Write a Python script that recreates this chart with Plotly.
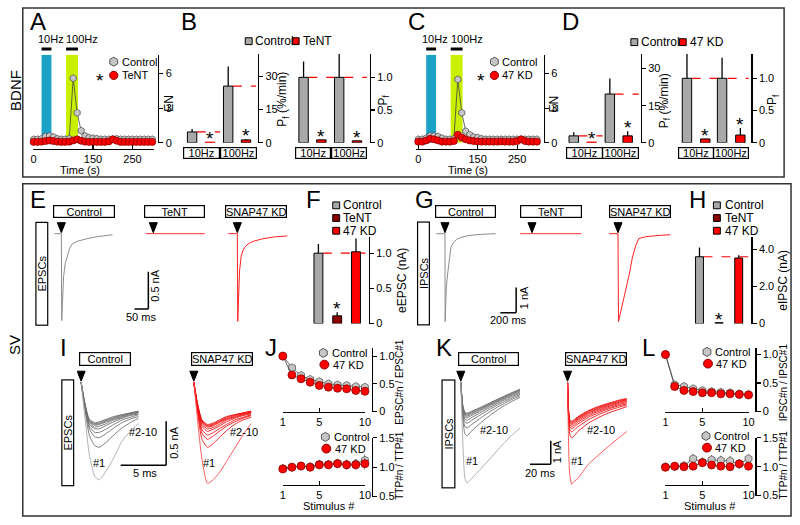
import plotly.graph_objects as go

W, H = 800, 525
FONT = "Liberation Sans, Arial, sans-serif"

GRAY_BAR = "#a8a8a8"
GRAY_PT = "#c6c6c6"
RED = "#ff0000"
RED_EDGE = "#8a0000"
DKRED = "#8b0000"
BLUE = "#1ca2c7"
GREEN = "#c8f000"

# ---------------- data: A / C (EN vs time) ----------------
time_s = [0, 10, 20, 30, 40, 50, 60, 70, 80, 90, 100, 110, 120, 130, 140, 150,
          160, 170, 180, 190, 200, 210, 220, 230, 240, 250, 260, 270, 280, 290, 300]
en_ctrl_A = [0.30, 0.30, 0.35, 0.55, 0.60, 0.50, 0.35, 0.30, 0.30, 0.35, 5.60, 2.60, 1.05, 0.60, 0.45, 0.40,
             0.35, 0.30, 0.30, 0.30, 0.30, 0.35, 0.30, 0.30, 0.30, 0.30, 0.30, 0.30, 0.30, 0.30, 0.30]
en_tent_A = [0.08, 0.08, 0.10, 0.15, 0.20, 0.15, 0.10, 0.08, 0.08, 0.10, 0.20, 0.30, 0.18, 0.10, 0.08, 0.08,
             0.08, 0.08, 0.08, 0.12, 0.30, 0.18, 0.08, 0.08, 0.08, 0.08, 0.08, 0.08, 0.08, 0.08, 0.08]
en_ctrl_C = [0.30, 0.30, 0.40, 0.60, 0.60, 0.55, 0.40, 0.30, 0.30, 0.35, 5.50, 2.60, 1.00, 0.70, 0.50, 0.45,
             0.35, 0.30, 0.30, 0.30, 0.30, 0.30, 0.30, 0.30, 0.30, 0.30, 0.30, 0.30, 0.30, 0.30, 0.30]
en_kd_C = [0.10, 0.10, 0.20, 0.35, 0.30, 0.20, 0.10, 0.10, 0.10, 0.15, 0.70, 0.45, 0.30, 0.20, 0.15, 0.12,
           0.10, 0.10, 0.10, 0.10, 0.10, 0.12, 0.10, 0.10, 0.10, 0.15, 0.30, 0.15, 0.10, 0.10, 0.10]
stim_labels = ["10Hz", "100Hz"]
stim_windows = [[20, 45], [82, 112]]
en_ticks = [0, 3, 6]
time_ticks = [0, 150, 250]

# ---------------- data: B / D (fusion probability) ----------------
freq_cats = ["10Hz", "100Hz"]
pf_ctrl_B = [4.9, 25.6]
pf_ctrl_B_err = [1.3, 8.8]
pf_tent_B = [0.3, 1.3]
pf_tent_B_err = [0.0, 0.4]
pfn_ctrl_B = [1.0, 1.0]
pfn_ctrl_B_err = [0.24, 0.36]
pfn_tent_B = [0.045, 0.03]
pfn_tent_B_err = [0.0, 0.0]
pf_ctrl_D = [2.8, 19.7]
pf_ctrl_D_err = [1.5, 6.3]
pf_kd_D = [0.3, 2.8]
pf_kd_D_err = [0.0, 1.9]
pfn_ctrl_D = [1.0, 1.0]
pfn_ctrl_D_err = [0.45, 0.32]
pfn_kd_D = [0.06, 0.12]
pfn_kd_D_err = [0.0, 0.11]
pf_ticks = [0, 15, 30]
pfn_ticks = [0, 0.5, 1.0]
pfn_ticktext = ["0", "0.5", "1.0"]

# ---------------- data: F / H (evoked amplitudes) ----------------
group_cats = ["Control", "TeNT", "47 KD"]
eepsc = [1.0, 0.11, 1.02]
eepsc_err = [0.13, 0.05, 0.19]
eipsc = [3.6, 0.05, 3.53]
eipsc_err = [0.5, 0.0, 0.15]
eepsc_ticks = [0, 0.5, 1.0]
eepsc_ticktext = ["0", "0.5", "1.0"]
eipsc_ticks = [0, 2, 4]
eipsc_ticktext = ["0", "2.0", "4.0"]

# ---------------- data: E / G single traces ----------------
e_ctrl_t = [-25, 0, 1.5, 4, 8, 14, 21, 30, 40, 60, 90, 130, 185]
e_ctrl_i = [0, 0, -1.17, -0.85, -0.58, -0.40, -0.30, -0.20, -0.135, -0.10, -0.07, -0.04, -0.015]
e_kd_t = [-32, 0, 1.5, 4, 8, 14, 21, 30, 40, 60, 90, 130, 180]
e_kd_i = [0, 0, -1.18, -0.85, -0.50, -0.30, -0.22, -0.17, -0.135, -0.10, -0.07, -0.045, -0.03]
e_tent_t = [-28, 186]
e_tent_i = [0, 0]
g_ctrl_t = [-110, 0, 2, 5, 17, 37, 58, 75, 100, 150, 200, 300, 450, 640]
g_ctrl_i = [0, 0, -3.46, -2.77, -2.10, -1.50, -0.85, -0.54, -0.38, -0.22, -0.15, -0.07, -0.03, 0]
g_kd_t = [-112, 0, 6, 58, 100, 142, 183, 225, 263, 350, 475, 660]
g_kd_i = [0, 0, -3.46, -2.77, -2.10, -1.60, -0.92, -0.46, -0.19, -0.12, -0.08, -0.04]
g_tent_t = [-150, 625]
g_tent_i = [0, 0]

# ---------------- data: I / K train traces (#1..#10) ----------------
i_time_ms = [0, 0.4, 0.9, 1.5, 2.0, 2.8, 3.6, 4.5, 5.4, 6.3]
epsc_ctrl = [
    [0, -0.38, -0.82, -1.07, -1.11, -1.00, -0.86, -0.67, -0.56, -0.47],
    [0, -0.30, -0.60, -0.72, -0.74, -0.68, -0.60, -0.52, -0.46, -0.41],
    [0, -0.28, -0.53, -0.62, -0.63, -0.58, -0.52, -0.46, -0.42, -0.39],
    [0, -0.27, -0.50, -0.57, -0.57, -0.53, -0.48, -0.43, -0.40, -0.37],
    [0, -0.26, -0.48, -0.53, -0.53, -0.49, -0.45, -0.41, -0.38, -0.36],
    [0, -0.25, -0.46, -0.51, -0.50, -0.47, -0.43, -0.40, -0.37, -0.35],
    [0, -0.25, -0.45, -0.49, -0.48, -0.45, -0.42, -0.39, -0.36, -0.34],
    [0, -0.24, -0.44, -0.48, -0.47, -0.44, -0.41, -0.38, -0.36, -0.34],
    [0, -0.24, -0.43, -0.47, -0.46, -0.43, -0.40, -0.37, -0.35, -0.33],
    [0, -0.23, -0.42, -0.46, -0.45, -0.42, -0.39, -0.37, -0.35, -0.33],
]
epsc_kd = [
    [0, -0.42, -0.88, -1.15, -1.12, -1.03, -0.90, -0.75, -0.60, -0.47],
    [0, -0.33, -0.65, -0.74, -0.71, -0.63, -0.55, -0.48, -0.43, -0.40],
    [0, -0.30, -0.58, -0.65, -0.62, -0.56, -0.50, -0.45, -0.41, -0.38],
    [0, -0.29, -0.54, -0.60, -0.58, -0.53, -0.48, -0.43, -0.40, -0.37],
    [0, -0.28, -0.50, -0.56, -0.54, -0.50, -0.45, -0.41, -0.38, -0.36],
    [0, -0.27, -0.48, -0.53, -0.52, -0.48, -0.43, -0.40, -0.37, -0.35],
    [0, -0.26, -0.46, -0.51, -0.50, -0.46, -0.42, -0.39, -0.36, -0.34],
    [0, -0.25, -0.45, -0.50, -0.49, -0.45, -0.41, -0.38, -0.36, -0.34],
    [0, -0.25, -0.44, -0.49, -0.48, -0.44, -0.40, -0.37, -0.35, -0.33],
    [0, -0.24, -0.43, -0.48, -0.47, -0.43, -0.39, -0.37, -0.35, -0.33],
]
k_time_ms = [0, 2, 4, 6, 10, 20, 30, 40, 50, 57]
ipsc_ctrl = [
    [0, -2.60, -4.10, -4.29, -4.13, -3.65, -3.17, -2.67, -2.23, -1.96],
    [0, -1.60, -2.20, -2.29, -2.10, -1.70, -1.35, -1.05, -0.80, -0.65],
    [0, -1.40, -1.90, -1.95, -1.82, -1.50, -1.20, -0.95, -0.72, -0.58],
    [0, -1.30, -1.70, -1.75, -1.64, -1.36, -1.10, -0.87, -0.66, -0.52],
    [0, -1.20, -1.58, -1.62, -1.52, -1.27, -1.03, -0.80, -0.60, -0.47],
    [0, -1.15, -1.48, -1.52, -1.43, -1.20, -0.97, -0.75, -0.55, -0.42],
    [0, -1.10, -1.41, -1.45, -1.37, -1.15, -0.92, -0.71, -0.51, -0.38],
    [0, -1.07, -1.36, -1.40, -1.32, -1.11, -0.89, -0.68, -0.48, -0.35],
    [0, -1.04, -1.32, -1.36, -1.28, -1.08, -0.86, -0.65, -0.45, -0.32],
    [0, -1.00, -1.28, -1.32, -1.25, -1.05, -0.84, -0.63, -0.43, -0.30],
]
ipsc_kd = [
    [0, -3.90, -4.35, -4.25, -4.10, -3.50, -3.10, -2.71, -2.35, -2.10],
    [0, -2.20, -2.38, -2.30, -2.10, -1.75, -1.50, -1.30, -1.15, -1.04],
    [0, -2.00, -2.12, -2.05, -1.90, -1.60, -1.38, -1.20, -1.06, -0.97],
    [0, -1.88, -1.98, -1.92, -1.78, -1.50, -1.30, -1.13, -1.00, -0.92],
    [0, -1.80, -1.90, -1.84, -1.70, -1.43, -1.24, -1.08, -0.95, -0.87],
    [0, -1.74, -1.83, -1.77, -1.63, -1.37, -1.19, -1.03, -0.90, -0.82],
    [0, -1.69, -1.78, -1.72, -1.58, -1.32, -1.14, -0.99, -0.86, -0.78],
    [0, -1.65, -1.74, -1.68, -1.54, -1.28, -1.10, -0.95, -0.82, -0.75],
    [0, -1.61, -1.70, -1.64, -1.50, -1.24, -1.06, -0.92, -0.79, -0.72],
    [0, -1.58, -1.67, -1.61, -1.47, -1.21, -1.03, -0.89, -0.76, -0.70],
]

# ---------------- data: J / L (train ratios) ----------------
stim_n = [1, 2, 3, 4, 5, 6, 7, 8, 9, 10]
epsc_ratio_ctrl = [1.0, 0.79, 0.65, 0.58, 0.54, 0.50, 0.48, 0.47, 0.45, 0.44]
epsc_ratio_kd = [1.0, 0.66, 0.59, 0.53, 0.47, 0.44, 0.42, 0.41, 0.38, 0.365]
ttp_e_ctrl = [0.98, 1.00, 1.02, 1.01, 1.05, 1.05, 1.07, 1.05, 1.06, 1.12]
ttp_e_ctrl_err = [0.02, 0.05, 0.05, 0.06, 0.07, 0.06, 0.07, 0.08, 0.08, 0.10]
ttp_e_kd = [0.97, 1.00, 1.02, 1.00, 1.04, 1.04, 1.06, 1.04, 1.04, 1.06]
ttp_e_kd_err = [0.02, 0.05, 0.05, 0.07, 0.07, 0.06, 0.06, 0.08, 0.08, 0.10]
ipsc_ratio_ctrl = [1.0, 0.47, 0.44, 0.40, 0.37, 0.35, 0.34, 0.33, 0.31, 0.30]
ipsc_ratio_kd = [1.0, 0.44, 0.37, 0.35, 0.33, 0.33, 0.31, 0.31, 0.30, 0.29]
ttp_i_ctrl = [1.00, 1.00, 1.02, 1.14, 1.08, 1.12, 1.11, 1.10, 1.05, 1.14]
ttp_i_ctrl_err = [0.02, 0.05, 0.06, 0.08, 0.08, 0.08, 0.08, 0.08, 0.08, 0.08]
ttp_i_kd = [0.99, 1.01, 1.00, 1.01, 1.07, 1.03, 1.01, 1.00, 1.05, 1.01]
ttp_i_kd_err = [0.02, 0.05, 0.06, 0.06, 0.07, 0.06, 0.06, 0.06, 0.07, 0.06]
ratio_ticks = [0, 0.5, 1.0]
ratio_ticktext = ["0", "0.5", "1.0"]
ttp_ticks = [0.5, 1.0, 1.5]
ttp_ticktext = ["0.5", "1.0", "1.5"]
stim_ticks = [1, 5, 10]


# ================= helpers =================
def px(x):
    return x / W


def py(y):
    return 1 - y / H


fig = go.Figure()
lay = dict(width=W, height=H, margin=dict(l=0, r=0, t=0, b=0), paper_bgcolor="white",
           plot_bgcolor="rgba(0,0,0,0)", showlegend=False, barmode="overlay",
           font=dict(family=FONT, size=11, color="black"))
shapes = []
annotations = []
n_ax = [0]


def axes(xdom, ydom, xr, yr, cats=None):
    n_ax[0] += 1
    s = "" if n_ax[0] == 1 else str(n_ax[0])
    xa = dict(domain=[px(xdom[0]), px(xdom[1])], range=xr, anchor="y" + s, visible=False,
              showgrid=False, zeroline=False, fixedrange=True)
    if cats is not None:
        xa.update(type="category", categoryorder="array", categoryarray=cats)
    ya = dict(domain=[py(ydom[0]), py(ydom[1])], range=yr, anchor="x" + s, visible=False,
              showgrid=False, zeroline=False, fixedrange=True)
    lay["xaxis" + s] = xa
    lay["yaxis" + s] = ya
    return "x" + s, "y" + s


AXSTYLE = dict(visible=True, showline=True, linecolor="black", linewidth=1.2, tickwidth=1.2,
               tickcolor="black", ticklen=4, tickfont=dict(family=FONT, size=11, color="black"))


def yaxis_right(yref, pos_px, tickvals, ticktext=None):
    name = "yaxis" + yref[1:]
    lay[name].update(AXSTYLE)
    lay[name].update(anchor="free", position=px(pos_px), side="right", ticks="outside",
                     tickvals=tickvals, ticktext=ticktext if ticktext else [str(v) for v in tickvals])


def xaxis_free(xref, pos_py, tickvals):
    name = "xaxis" + xref[1:]
    lay[name].update(AXSTYLE)
    lay[name].update(anchor="free", position=py(pos_py), side="bottom", ticks="inside",
                     tickvals=tickvals, ticktext=[str(v) for v in tickvals])


def text(x, y, s, size=11, xanchor="center", yanchor="middle", angle=0, color="black"):
    annotations.append(dict(x=px(x), y=py(y), xref="paper", yref="paper", text=s, showarrow=False,
                            xanchor=xanchor, yanchor=yanchor, textangle=angle,
                            font=dict(family=FONT, size=size, color=color)))


def boxed(x0, x1, y0, y1, s, size=11, angle=0):
    w, h = x1 - x0, y1 - y0
    if angle:
        w, h = h, w
    annotations.append(dict(x=px((x0 + x1) / 2), y=py((y0 + y1) / 2), xref="paper", yref="paper",
                            text=s, showarrow=False, xanchor="center", yanchor="middle",
                            textangle=angle, width=w - 2, height=h - 2, borderwidth=1.2,
                            bordercolor="black", borderpad=0, bgcolor="white",
                            font=dict(family=FONT, size=size, color="black")))


def star_data(xref, yref, x, y, shift=7):
    annotations.append(dict(x=x, y=y, xref=xref, yref=yref, text="*", showarrow=False,
                            xanchor="center", yanchor="middle", yshift=shift - 4.4,
                            font=dict(family=FONT, size=19, color="black")))


def star_paper(x, y):
    text(x, y + 4.4, "*", size=19)


def leg_square(cx, cy, color, s=7):
    shapes.append(dict(type="rect", xref="paper", yref="paper", x0=px(cx - s / 2), x1=px(cx + s / 2),
                       y0=py(cy + s / 2), y1=py(cy - s / 2), fillcolor=color,
                       line=dict(color="black", width=1)))


def leg_circle(cx, cy, r=4.2):
    shapes.append(dict(type="circle", xref="paper", yref="paper", x0=px(cx - r), x1=px(cx + r),
                       y0=py(cy + r), y1=py(cy - r), fillcolor=RED,
                       line=dict(color=RED_EDGE, width=1)))


def leg_hex(cx, cy, r=4.5):
    a = 0.866 * r
    path = (f"M0,{r} L{a:.2f},{r/2:.2f} L{a:.2f},{-r/2:.2f} L0,{-r} "
            f"L{-a:.2f},{-r/2:.2f} L{-a:.2f},{r/2:.2f} Z")
    shapes.append(dict(type="path", xref="paper", yref="paper", xsizemode="pixel", ysizemode="pixel",
                       xanchor=px(cx), yanchor=py(cy), path=path, fillcolor=GRAY_PT,
                       line=dict(color="#555555", width=1)))


def stim_arrow(xref, yref):
    shapes.append(dict(type="path", xref=xref, yref=yref, xsizemode="pixel", ysizemode="pixel",
                       xanchor=0, yanchor=0, path="M-4,11 L4,11 L0,1 Z", fillcolor="black",
                       line=dict(color="black", width=1)))


def bar_geom(unit, center_px, width_px):
    w = width_px / unit
    return center_px / unit - w / 2, w


ERR = dict(type="data", symmetric=False, color="black", thickness=1.3, width=0)


def err(vals):
    e = dict(ERR)
    e.update(array=vals, arrayminus=[0] * len(vals))
    return e


# ================= frames and row labels =================
shapes.append(dict(type="rect", xref="paper", yref="paper", x0=px(20), x1=px(790), y0=py(175), y1=py(2),
                   line=dict(color="#333333", width=1.5)))
shapes.append(dict(type="rect", xref="paper", yref="paper", x0=px(20), x1=px(797), y0=py(522), y1=py(182),
                   line=dict(color="#333333", width=1.5)))
text(12, 86, "BDNF", size=15, angle=-90)
text(11, 347, "SV", size=15, angle=-90)
for lx, ly, L in [(35, 16, "A"), (188, 16, "B"), (418, 16, "C"), (574, 16, "D"),
                  (35, 198, "E"), (314, 198, "F"), (426, 198, "G"), (702, 198, "H"),
                  (61, 349, "I"), (271, 349, "J"), (446, 349, "K"), (653, 349, "L")]:
    text(lx, ly, L, size=24)


# ================= A and C =================
def en_panel(xdom, zero_px, yaxis_px, ctrl, other):
    ppu = 0.4
    xr = [(xdom[0] - zero_px) / ppu, (xdom[1] - zero_px) / ppu]
    ytop = (140 - 50) / 11.8
    xa, ya = axes(xdom, (140, 50), xr, [0, ytop])
    xaxis_free(xa, 146, time_ticks)
    yaxis_right(ya, yaxis_px, en_ticks)
    for (w0, w1), col in zip(stim_windows, [BLUE, GREEN]):
        shapes.append(dict(type="rect", xref=xa, yref=ya, x0=w0, x1=w1, y0=0, y1=ytop,
                           fillcolor=col, line=dict(width=0), layer="below"))
    for (w0, w1), lab, dx in zip(stim_windows, stim_labels, [-6, -2]):
        shapes.append(dict(type="line", xref=xa, yref="paper", x0=w0, x1=w1, y0=py(44), y1=py(44),
                           line=dict(color="black", width=3)))
        annotations.append(dict(x=w0, y=py(42.3), xref=xa, yref="paper", text=lab, xanchor="left",
                                yanchor="bottom", xshift=dx, showarrow=False,
                                font=dict(family=FONT, size=11, color="black")))
    fig.add_trace(go.Scatter(x=time_s, y=ctrl, xaxis=xa, yaxis=ya, mode="lines+markers", cliponaxis=False,
                             line=dict(color="#444444", width=0.8),
                             marker=dict(symbol="hexagon", size=7, color=GRAY_PT,
                                         line=dict(color="#555555", width=0.8))))
    fig.add_trace(go.Scatter(x=time_s, y=other, xaxis=xa, yaxis=ya, mode="lines+markers", cliponaxis=False,
                             line=dict(color="#444444", width=0.8),
                             marker=dict(symbol="circle", size=7, color=RED,
                                         line=dict(color=RED_EDGE, width=0.8))))
    return xa, ya


en_panel((30, 153), 31, 157, en_ctrl_A, en_tent_A)
text(168, 100, "EN", size=12, angle=-90)
text(78, 168, "Time (s)", size=11)
leg_hex(112, 57)
text(118, 57, "Control", xanchor="left")
leg_circle(112, 71)
text(118, 71, "TeNT", xanchor="left")
star_paper(98, 72)

en_panel((418, 543), 420, 547, en_ctrl_C, en_kd_C)
text(557, 100, "EN", size=12, angle=-90)
text(470, 168, "Time (s)", size=11)
leg_hex(497, 57)
text(503, 57, "Control", xanchor="left")
leg_circle(497, 71)
text(503, 71, "47 KD", xanchor="left")
star_paper(483, 72)


# ================= B and D bar panels =================
def freq_bar_panel(xdom, axis_px, ppu_y, ctrl, ctrl_err, oth, oth_err, ctr_off, oth_off,
                   ticks, ticktext, normalized, oth_edge):
    unit = (xdom[1] - xdom[0]) / 2.0
    ytop = (140 - 49) / ppu_y
    xa, ya = axes(xdom, (140, 49), [-0.5, 1.5], [0, ytop], cats=freq_cats)
    yaxis_right(ya, axis_px, ticks, ticktext)
    oc, wc = bar_geom(unit, ctr_off, 9.5)
    oo, wo = bar_geom(unit, oth_off, 9.5)
    axis_u = (axis_px - xdom[0]) / unit - 0.5
    if normalized:
        shapes.append(dict(type="line", xref=xa, yref=ya, x0=oc + wc, x1=axis_u, y0=ctrl[0], y1=ctrl[0],
                           line=dict(color=RED, width=1.2, dash="dash"), layer="below"))
    else:
        for i in range(2):
            x1 = i + 0.5 if i == 0 else axis_u
            shapes.append(dict(type="line", xref=xa, yref=ya, x0=i + oc + wc, x1=x1, y0=ctrl[i], y1=ctrl[i],
                               line=dict(color=RED, width=1.2, dash="dash"), layer="below"))
    fig.add_trace(go.Bar(x=freq_cats, y=ctrl, offset=oc, width=wc, xaxis=xa, yaxis=ya, cliponaxis=False,
                         marker=dict(color=GRAY_BAR, line=dict(color="black", width=1)), error_y=err(ctrl_err)))
    fig.add_trace(go.Bar(x=freq_cats, y=oth, offset=oo, width=wo, xaxis=xa, yaxis=ya, cliponaxis=False,
                         marker=dict(color=RED, line=dict(color=oth_edge, width=1)), error_y=err(oth_err)))
    for i in range(2):
        star_data(xa, ya, i + oo + wo / 2, oth[i] + oth_err[i], shift=8)
    boxed(xdom[0], (xdom[0] + xdom[1]) / 2, 144, 156, freq_cats[0])
    boxed((xdom[0] + xdom[1]) / 2, xdom[1], 144, 156, freq_cats[1])


freq_bar_panel((183, 256), 258, 68 / 30.0, pf_ctrl_B, pf_ctrl_B_err, pf_tent_B, pf_tent_B_err,
               -10, 8, pf_ticks, None, False, [RED, "black"])
freq_bar_panel((296, 368), 371, 67.0, pfn_ctrl_B, pfn_ctrl_B_err, pfn_tent_B, pfn_tent_B_err,
               -10, 8, pfn_ticks, pfn_ticktext, True, ["black", "black"])
freq_bar_panel((570, 643), 645, 76 / 30.0, pf_ctrl_D, pf_ctrl_D_err, pf_kd_D, pf_kd_D_err,
               -11, 7, pf_ticks, None, False, [RED, "black"])
freq_bar_panel((683, 754), 757, 66.0, pfn_ctrl_D, pfn_ctrl_D_err, pfn_kd_D, pfn_kd_D_err,
               -9, 9.5, pfn_ticks, pfn_ticktext, True, ["black", "black"])

text(283, 95, "P<sub>f</sub> (%/min)", size=12, angle=-90)
text(385, 96, "P<sub>f</sub>", size=12, angle=-90)
text(669, 97, "P<sub>f</sub> (%/min)", size=12, angle=-90)
text(779, 96, "P<sub>f</sub>", size=12, angle=-90)
leg_square(248.5, 36, GRAY_BAR)
text(253, 36, "Control", xanchor="left", size=12)
leg_square(296, 36, RED)
text(301, 36, "TeNT", xanchor="left", size=12)
leg_square(638.5, 37, GRAY_BAR)
text(643, 37, "Control", xanchor="left", size=12)
leg_square(687.5, 37, RED)
text(693, 37, "47 KD", xanchor="left", size=12)


# ================= F and H =================
def amp_panel(xdom, axis_px, ppu_y, vals, errs, ticks, ticktext, bar_w):
    unit = (xdom[1] - xdom[0]) / 3.0
    ytop = (325 - 236) / ppu_y
    xa, ya = axes(xdom, (325, 236), [-0.5, 2.5], [0, ytop], cats=group_cats)
    yaxis_right(ya, axis_px, ticks, ticktext)
    o, w = bar_geom(unit, 0, bar_w)
    axis_u = (axis_px - xdom[0]) / unit - 0.5
    shapes.append(dict(type="line", xref=xa, yref=ya, x0=o + w, x1=axis_u, y0=vals[0], y1=vals[0],
                       line=dict(color=RED, width=1.2, dash="dash"), layer="below"))
    for cat, v, e, col in zip(group_cats, vals, errs, [GRAY_BAR, DKRED, RED]):
        fig.add_trace(go.Bar(x=[cat], y=[v], offset=o, width=w, xaxis=xa, yaxis=ya, cliponaxis=False,
                             marker=dict(color=col, line=dict(color="black", width=1)), error_y=err([e])))
    star_data(xa, ya, group_cats[1], vals[1] + errs[1], shift=8)


amp_panel((309.5, 366.5), 370, 72.0, eepsc, eepsc_err, eepsc_ticks, eepsc_ticktext, 9)
amp_panel((694.5, 754), 757, 19.0, eipsc, eipsc_err, eipsc_ticks, eipsc_ticktext, 8)
text(403, 281, "eEPSC (nA)", size=12, angle=-90)
text(788, 281, "eIPSC (nA)", size=12, angle=-90)
for (sx, tx) in [(337, 342), (722, 728)]:
    for yy, col, lab in zip([204, 217, 230], [GRAY_BAR, DKRED, RED], group_cats):
        leg_square(sx, yy, col)
        text(tx, yy, lab, xanchor="left", size=12)


# ================= E and G single traces =================
def trace_axes(xdom, zero_px, ppu_x, ydom, base_py, ppu_y):
    xr = [(xdom[0] - zero_px) / ppu_x, (xdom[1] - zero_px) / ppu_x]
    yr = [-(ydom[0] - base_py) / ppu_y, (base_py - ydom[1]) / ppu_y]
    return axes(xdom, ydom, xr, yr)


def add_line(xa, ya, t, v, color, width=1.0, shape="linear"):
    fig.add_trace(go.Scatter(x=t, y=v, xaxis=xa, yaxis=ya, mode="lines",
                             line=dict(color=color, width=width, shape=shape, smoothing=0.6)))


def scalebar(xa, ya, x_end, y_base, dx, dy):
    shapes.append(dict(type="line", xref=xa, yref=ya, x0=x_end - dx, x1=x_end, y0=y_base, y1=y_base,
                       line=dict(color="black", width=1.5)))
    shapes.append(dict(type="line", xref=xa, yref=ya, x0=x_end, x1=x_end, y0=y_base, y1=y_base + dy,
                       line=dict(color="black", width=1.5)))


# E (EPSCs): 14 px per 50 ms, 76 px per nA, baseline at 233
E_PPX, E_PPY = 14 / 50.0, 76.0
xa, ya = trace_axes((50, 152), 59, E_PPX, (330, 218), 233, E_PPY)
add_line(xa, ya, e_ctrl_t, e_ctrl_i, "#8c8c8c")
stim_arrow(xa, ya)
scalebar(xa, ya, (147 - 59) / E_PPX, -(310 - 233) / E_PPY, 50, 0.5)
xa, ya = trace_axes((140, 210), 152, E_PPX, (330, 218), 233, E_PPY)
add_line(xa, ya, e_tent_t, e_tent_i, "#ff3030")
stim_arrow(xa, ya)
xa, ya = trace_axes((225, 292), 237, E_PPX, (330, 218), 233, E_PPY)
add_line(xa, ya, e_kd_t, e_kd_i, "#ff2020")
stim_arrow(xa, ya)
boxed(51, 113, 204, 217, "Control")
boxed(143, 204, 204, 217, "TeNT")
boxed(225, 287, 204, 217, "SNAP47 KD")
boxed(33, 46, 222, 326, "EPSCs", angle=-90)
text(154, 286, "0.5 nA", angle=-90)
text(140, 318, "50 ms")

# G (IPSCs): 16 px per 200 ms, 26 px per nA
G_PPX, G_PPY = 16 / 200.0, 26.0
xa, ya = trace_axes((436, 525), 447, G_PPX, (330, 218), 233, G_PPY)
add_line(xa, ya, g_ctrl_t, g_ctrl_i, "#8c8c8c")
stim_arrow(xa, ya)
scalebar(xa, ya, (519 - 447) / G_PPX, -(314 - 233) / G_PPY, 200, 1.0)
xa, ya = trace_axes((520, 590), 535, G_PPX, (330, 218), 233, G_PPY)
add_line(xa, ya, g_tent_t, g_tent_i, "#ff3030")
stim_arrow(xa, ya)
xa, ya = trace_axes((610, 680), 622, G_PPX, (330, 218), 233, G_PPY)
add_line(xa, ya, g_kd_t, g_kd_i, "#ff2020")
stim_arrow(xa, ya)
boxed(437, 498, 204, 217, "Control")
boxed(523, 585, 204, 217, "TeNT")
boxed(613, 675, 204, 217, "SNAP47 KD")
boxed(419, 432, 222, 326, "IPSCs", angle=-90)
text(527, 299, "1 nA", angle=-90)
text(511, 321, "200 ms")

# ================= I and K trains =================
I_PPX, I_PPY = 46 / 5.0, 90.0
xa, ya = trace_axes((75, 175), 79, I_PPX, (497, 370), 385, I_PPY)
for k in range(9, 0, -1):
    add_line(xa, ya, i_time_ms, epsc_ctrl[k], "#707070", 0.9, "spline")
add_line(xa, ya, i_time_ms, epsc_ctrl[0], "#a8a8a8", 0.9, "spline")
stim_arrow(xa, ya)
scalebar(xa, ya, (165 - 79) / I_PPX, -(470 - 385) / I_PPY, 5, 0.5)
xa, ya = trace_axes((188, 262), 193, I_PPX, (497, 370), 385, I_PPY)
for k in range(9, 0, -1):
    add_line(xa, ya, i_time_ms, epsc_kd[k], "#f01010", 0.9, "spline")
add_line(xa, ya, i_time_ms, epsc_kd[0], "#ff4a4a", 0.9, "spline")
stim_arrow(xa, ya)
boxed(77, 129, 354, 368, "Control")
boxed(190, 252, 354, 368, "SNAP47 KD")
boxed(59, 72, 383, 490, "EPSCs", angle=-90)
text(142, 436, "#2-10")
text(97, 468, "#1")
text(244, 436, "#2-10")
text(208, 468, "#1")
text(173, 447, "0.5 nA", angle=-90)
text(144, 478, "5 ms")

K_PPX, K_PPY = 21 / 20.0, 24.0
xa, ya = trace_axes((458, 560), 463, K_PPX, (497, 370), 385, K_PPY)
for k in range(9, 0, -1):
    add_line(xa, ya, k_time_ms, ipsc_ctrl[k], "#707070", 0.9, "spline")
add_line(xa, ya, k_time_ms, ipsc_ctrl[0], "#a8a8a8", 0.9, "spline")
stim_arrow(xa, ya)
scalebar(xa, ya, (554 - 463) / K_PPX, -(469 - 385) / K_PPY, 20, 1.0)
xa, ya = trace_axes((566, 640), 571, K_PPX, (497, 370), 385, K_PPY)
for k in range(9, 0, -1):
    add_line(xa, ya, k_time_ms, ipsc_kd[k], "#f01010", 0.9, "spline")
add_line(xa, ya, k_time_ms, ipsc_kd[0], "#ff4a4a", 0.9, "spline")
stim_arrow(xa, ya)
boxed(461, 522, 354, 368, "Control")
boxed(569, 631, 354, 368, "SNAP47 KD")
boxed(443, 457, 383, 492, "IPSCs", angle=-90)
text(497, 434, "#2-10")
text(474, 466, "#1")
text(605, 434, "#2-10")
text(581, 466, "#1")
text(560, 456, "1 nA", angle=-90)
text(543, 478, "20 ms")


# ================= J and L ratio panels =================
def ratio_panel(xdom, axis_px, ydom, yr, xpos, yticks, yticktext, ctrl, kd, ctrl_err=None, kd_err=None):
    xa, ya = axes(xdom, ydom, [1, 10], yr)
    xaxis_free(xa, xpos, stim_ticks)
    yaxis_right(ya, axis_px, yticks, yticktext)
    for vals, e, sym, col, edge in [(ctrl, ctrl_err, "hexagon", GRAY_PT, "#555555"),
                                    (kd, kd_err, "circle", RED, RED_EDGE)]:
        fig.add_trace(go.Scatter(x=stim_n, y=vals, xaxis=xa, yaxis=ya, mode="lines+markers", cliponaxis=False,
                                 line=dict(color="#444444", width=0.8),
                                 marker=dict(symbol=sym, size=8, color=col, line=dict(color=edge, width=0.8)),
                                 error_y=(dict(type="data", array=e, color="#444444", thickness=1, width=0)
                                          if e else None)))


ratio_panel((283, 366), 373, (415, 350), [0, 65 / 56.7], 415, ratio_ticks, ratio_ticktext,
            epsc_ratio_ctrl, epsc_ratio_kd)
ratio_panel((283, 366), 373, (502, 442), [0.5, 1.5], 490, ttp_ticks, ttp_ticktext,
            ttp_e_ctrl, ttp_e_kd, ttp_e_ctrl_err, ttp_e_kd_err)
ratio_panel((670, 754), 761, (415, 350), [0, 65 / 58.3], 415, ratio_ticks, ratio_ticktext,
            ipsc_ratio_ctrl, ipsc_ratio_kd)
ratio_panel((670, 754), 761, (501, 442), [0.5, 1.5], 490, ttp_ticks, ttp_ticktext,
            ttp_i_ctrl, ttp_i_kd, ttp_i_ctrl_err, ttp_i_kd_err)

text(401, 385, "EPSC#n / EPSC#1", size=10, angle=-90)
text(401, 470, "TTP#n / TTP#1", size=10, angle=-90)
text(789, 385, "IPSC#n / IPSC#1", size=10, angle=-90)
text(789, 470, "TTP#n / TTP#1", size=10, angle=-90)
text(330, 512, "Stimulus #", size=11)
text(715, 512, "Stimulus #", size=11)
for hx, tx, y1, y2 in [(324, 331, 355, 367), (326, 333, 441, 453), (712, 718, 354, 366), (711, 717, 440, 452)]:
    leg_hex(hx, y1)
    text(tx, y1, "Control", xanchor="left")
    leg_circle(hx + 1, y2, r=4.5)
    text(tx + 1, y2, "47 KD", xanchor="left")

lay["shapes"] = shapes
lay["annotations"] = annotations
fig.update_layout(**lay)
fig.write_html("out.html", config={"displayModeBar": False, "staticPlot": True},
               post_script="document.body.style.margin='0px';document.body.style.overflow='hidden';")
